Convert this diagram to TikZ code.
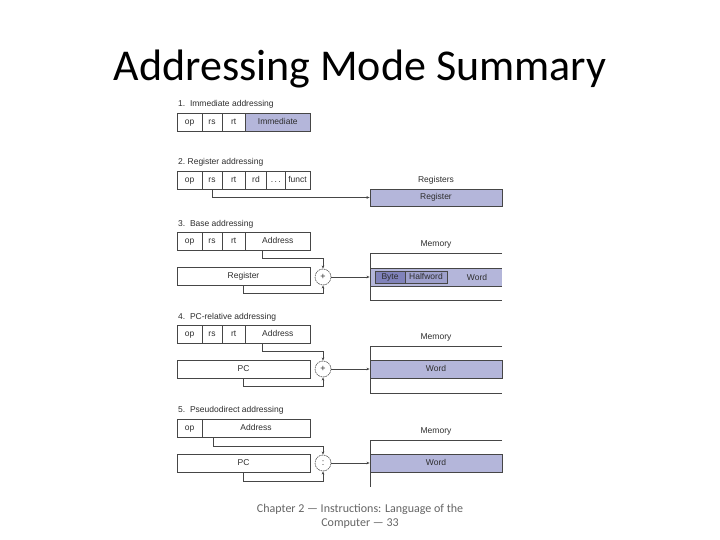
\documentclass[tikz,border=0pt]{standalone}
\usepackage{fontspec}
\setmainfont{Carlito}
\newfontfamily\figfont{Liberation Sans}
\usetikzlibrary{arrows.meta}
\definecolor{lineclr}{RGB}{70,70,70}
\definecolor{txtclr}{RGB}{45,45,45}
\definecolor{bandclr}{RGB}{180,182,218}
\definecolor{byteclr}{RGB}{128,130,186}
\definecolor{halfclr}{RGB}{158,160,204}
\definecolor{footclr}{RGB}{100,100,100}
% one field of an instruction word: [options]{name}{x1}{x2}{y1}{y2}{text}
\newcommand{\field}[7][]{%
  \node[fieldbox,#1,minimum width={(#4-#3)*1pt},minimum height={(#6-#5)*1pt}]
    (#2) at ({(#3+#4)/2},{(#5+#6)/2}) {#7};}
\tikzset{
  fieldbox/.style={draw=lineclr,line width=0.6pt,inner sep=0pt,text=txtclr,
    text height=6.2pt,text depth=1.8pt,
    font=\figfont\fontsize{8.5}{10}\selectfont},
  heading/.style={anchor=west,inner sep=0pt,text=txtclr,
    font=\figfont\fontsize{8.5}{10}\selectfont},
  sumnode/.style={circle,draw=lineclr,line width=0.6pt,dash pattern=on 1.6pt off 0.9pt,
    minimum size=16pt,inner sep=0pt,text=txtclr,font=\figfont\fontsize{9}{10}\selectfont},
  link/.style={draw=lineclr,line width=0.6pt},
  linkarrow/.style={link,-{Stealth[length=3.2pt,width=2.6pt]}},
  memline/.style={draw=lineclr,line width=0.6pt}
}
\begin{document}
\begin{tikzpicture}[x=1pt,y=-1pt]
  \useasboundingbox (0,0) rectangle (720,540);
  % title and footer
  \node[anchor=base,font=\fontsize{44}{48}\selectfont] (title) at (360,81) {Addressing Mode Summary};
  \node[anchor=base,text=footclr,font=\fontsize{12}{14}\selectfont] (foot) at (360,512)
    {Chapter 2 — Instructions: Language of the};
  \node[anchor=base,text=footclr,font=\fontsize{12}{14}\selectfont] (foot2) at (360,526)
    {Computer — 33};

  % 1. immediate
  \node[heading] (h1) at (178,104) {1.\ \ Immediate addressing};
  \field{op1}{177}{202}{113}{131}{op}
  \field{rs1}{202}{222}{113}{131}{rs}
  \field{rt1}{222}{245.5}{113}{131}{rt}
  \field[fill=bandclr]{imm1}{245.5}{310}{113}{131}{Immediate}

  % 2. register
  \node[heading] (h2) at (178,162) {2.\ Register addressing};
  \field{op2}{177}{202}{171}{189}{op}
  \field{rs2}{202}{222}{171}{189}{rs}
  \field{rt2}{222}{245.5}{171}{189}{rt}
  \field{rd2}{245.5}{266.5}{171}{189}{rd}
  \field{dots2}{266.5}{285}{171}{189}{.\,.\,.}
  \field{funct2}{285}{310}{171}{189}{funct}
  \node[heading,anchor=center] (regs2) at (436,180) {Registers};
  \field[fill=bandclr]{reg2}{370}{502}{189}{206}{Register}
  \draw[linkarrow] (rs2.south) |- (reg2.west);

  % 3. base
  \node[heading] (h3) at (178,224) {3.\ \ Base addressing};
  \field{op3}{177}{202}{232}{250}{op}
  \field{rs3}{202}{222}{232}{250}{rs}
  \field{rt3}{222}{245.5}{232}{250}{rt}
  \field{addr3}{245.5}{310}{232}{250}{Address}
  \field{reg3}{177}{310}{267}{285}{Register}
  \node[sumnode] (sum3) at (323,277) {+};
  \node[heading,anchor=center] (mem3) at (436,244) {Memory};
  \field[draw=none,fill=bandclr]{word3}{370}{502}{268}{286}{}
  \draw[memline] (370,268) -- (502,268) (370,286) -- (502,286);
  \draw[memline] (502,253) -- (370,253) -- (370,300) -- (502,300);
  \field[fill=byteclr]{byte3}{375}{405}{271}{283}{Byte}
  \field[fill=halfclr]{half3}{405}{447}{271}{283}{Halfword}
  \node[heading,anchor=center] (wlab3) at (477,277) {Word};
  \draw[linkarrow] ([xshift=-15.75pt]addr3.south) -- ++(0,8) -| (sum3.north);
  \draw[linkarrow] (reg3.south) -- ++(0,8) -| (sum3.south);
  \draw[linkarrow] (sum3.east) -- (word3.west);

  % 4. pc-relative
  \node[heading] (h4) at (178,317) {4.\ \ PC-relative addressing};
  \field{op4}{177}{202}{325}{343}{op}
  \field{rs4}{202}{222}{325}{343}{rs}
  \field{rt4}{222}{245.5}{325}{343}{rt}
  \field{addr4}{245.5}{310}{325}{343}{Address}
  \field{pc4}{177}{310}{360}{378}{PC}
  \node[sumnode] (sum4) at (323,369) {+};
  \node[heading,anchor=center] (mem4) at (436,337) {Memory};
  \draw[memline] (502,346) -- (370,346) -- (370,393) -- (502,393);
  \field[fill=bandclr]{word4}{370}{502}{360}{378}{Word}
  \draw[linkarrow] ([xshift=-15.75pt]addr4.south) -- ++(0,8) -| (sum4.north);
  \draw[linkarrow] (pc4.south) -- ++(0,8) -| (sum4.south);
  \draw[linkarrow] (sum4.east) -- (word4.west);

  % 5. pseudodirect
  \node[heading] (h5) at (178,410) {5.\ \ Pseudodirect addressing};
  \field{op5}{177}{202}{419}{437}{op}
  \field{addr5}{202}{310}{419}{437}{Address}
  \field{pc5}{177}{310}{454}{472}{PC}
  \node[sumnode] (sum5) at (323,463) {:};
  \node[heading,anchor=center] (mem5) at (436,431) {Memory};
  \draw[memline] (502,440) -- (370,440) -- (370,487);
  \field[fill=bandclr]{word5}{370}{502}{454}{472}{Word}
  \draw[linkarrow] ([xshift=-43pt]addr5.south) -- ++(0,9) -| (sum5.north);
  \draw[linkarrow] (pc5.south) -- ++(0,9) -| (sum5.south);
  \draw[linkarrow] (sum5.east) -- (word5.west);
\end{tikzpicture}
\end{document}
